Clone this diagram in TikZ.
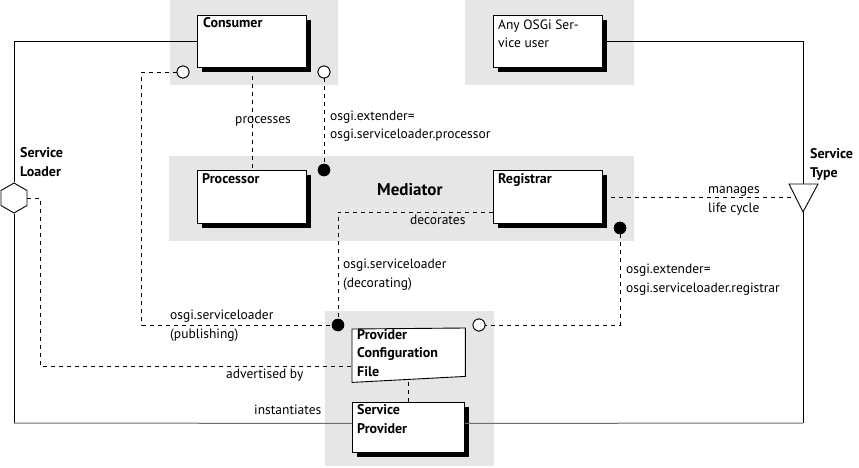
\documentclass[tikz,border=0pt]{standalone}
\usepackage{fontspec}
\setmainfont{PT Sans}
\usetikzlibrary{shadows,shapes.geometric}
\definecolor{grp}{RGB}{230,230,230}
\definecolor{botline}{RGB}{110,110,110}
\tikzset{
  grpbox/.style={fill=grp},
  comp/.style={draw, fill=white, line width=0.9pt, anchor=north west, inner sep=0pt,
     drop shadow={shadow xshift=5pt, shadow yshift=-5pt, fill=black, opacity=1}},
  txt/.style={anchor=base west, inner sep=0pt, font=\fontsize{13.5}{18.5}\selectfont, align=left},
  btxt/.style={anchor=base west, inner sep=0pt, font=\fontsize{14}{18.5}\selectfont\bfseries, align=left},
  opencirc/.style={circle, draw, fill=white, minimum size=12pt, inner sep=0pt, line width=0.8pt},
  fullcirc/.style={circle, draw, fill=black, minimum size=12pt, inner sep=0pt},
  solidln/.style={line width=1pt},
  dashln/.style={line width=0.8pt, dash pattern=on 4pt off 4pt},
}
\begin{document}
\begin{tikzpicture}[x=1pt,y=-1pt]
\useasboundingbox (0,0) rectangle (859,468);
% groups
\fill[grpbox] (170,0) rectangle (338,85);
\fill[grpbox] (465,0) rectangle (634,85);
\fill[grpbox] (169,156) rectangle (634,241);
\fill[grpbox] (325,311) rectangle (494,466);

% coordinates
\coordinate (triL) at (789,184);
\coordinate (triR) at (818,184);
\coordinate (triA) at (803,212);
\coordinate (triT) at (803,184);
\coordinate (triM) at (796,196);
\coordinate (bl) at (14,423);
\coordinate (br) at (803,423);

% component boxes (names for connectors)
\node[comp, minimum width=109pt, minimum height=52pt] (consumer) at (197,15) {};
\node[comp, minimum width=109pt, minimum height=52pt] (anyosgi) at (493,15) {};
\node[comp, minimum width=109pt, minimum height=53pt] (processor) at (197,170) {};
\node[comp, minimum width=109pt, minimum height=53pt] (registrar) at (493,170) {};
\node[comp, minimum width=112pt, minimum height=50pt] (sp) at (352,402) {};
\node[anchor=north west, minimum width=113pt, minimum height=53pt, inner sep=0pt] (pcf) at (352,329) {};

% hexagon
\node[draw, fill=white, regular polygon, regular polygon sides=6, shape border rotate=30,
      minimum size=30pt, inner sep=0pt, line width=0.9pt] (hex) at (14,198) {};

% solid lines
\draw[solidln] (consumer.west) -| (hex.north);
\draw[solidln] (hex.south) -- (bl);
\draw[solidln, botline] (bl) -- ([yshift=4pt]sp.west);
\draw[solidln] (anyosgi.east) -| (triT);
\draw[solidln] (triA) -- (br);
\draw[solidln, botline] (br) -- ([yshift=4pt]sp.east);

% circles
\node[opencirc] (o1) at (183,72) {};
\node[opencirc] (o2) at (324,72) {};
\node[fullcirc] (f1) at (324,170) {};
\node[fullcirc] (f2) at (620,228) {};
\node[fullcirc] (f3) at (338,325) {};
\node[opencirc] (o3) at (479,325) {};

% dashed lines
\draw[dashln] (o1.west) -- ++(-35,0) |- (f3.west);
\draw[dashln] (hex.east) -- ++(13,0) |- ([yshift=-11pt]pcf.west);
\draw[dashln] (consumer.south) -- (processor.north);
\draw[dashln] (o2.south) -- (f1.north);
\draw[dashln] ([yshift=-15pt]registrar.west) -| (f3.north);
\draw[dashln] (registrar.east) -- (registrar.east -| triM);
\draw[dashln] (f2.south) |- (o3.east);
\draw[dashln] (sp.north) -- ([yshift=3pt]sp.north |- pcf.south);

% triangle
\draw[fill=white, line width=0.9pt] (triL) -- (triR) -- (triA) -- cycle;

% provider configuration file shape
\draw[fill=white, line width=0.9pt] (pcf.north west) -- ([yshift=1pt]pcf.north east) -- ([yshift=6pt]pcf.south east) -- (pcf.south west) -- cycle;

% redraw circles on top
\node[opencirc] at (o1) {};
\node[opencirc] at (o2) {};
\node[fullcirc] at (f1) {};
\node[fullcirc] at (f2) {};
\node[fullcirc] at (f3) {};
\node[opencirc] at (o3) {};

% box texts (base anchor = baseline of last line)
\node[btxt] (tconsumer) at (203,28) {Consumer};
\node[txt] (tany) at (498,48) {Any OSGi Ser-\\vice user};
\node[btxt] (tproc) at (202,183) {Processor};
\node[btxt] (treg) at (498,183) {Registrar};
\node[btxt] (tpcf) at (357,376) {Provider\\Configuration\\File};
\node[btxt] (tsp) at (357,433) {Service\\Provider};
\node[anchor=base west, inner sep=0pt, font=\fontsize{17}{20}\selectfont\bfseries] (tmed) at (377,195) {Mediator};
\node[btxt] (tsl) at (20,176) {Service\\Loader};
\node[btxt] (tst) at (810,177) {Service\\Type};

% connector labels
\node[txt] (lproc) at (235,124) {processes};
\node[txt] (lext1) at (330,139) {osgi.extender=\\osgi.serviceloader.processor};
\node[txt] (ldec) at (410,224) {decorates};
\node[txt] (lman) at (708,212) {manages\\life cycle};
\node[txt] (ldecg) at (343,287) {osgi.serviceloader\\(decorating)};
\node[txt] (lext2) at (626,292) {osgi.extender=\\osgi.serviceloader.registrar};
\node[txt] (lpub) at (170,338) {osgi.serviceloader\\(publishing)};
\node[txt] (ladv) at (226,378) {advertised by};
\node[txt] (linst) at (254,414) {instantiates};
\end{tikzpicture}
\end{document}
